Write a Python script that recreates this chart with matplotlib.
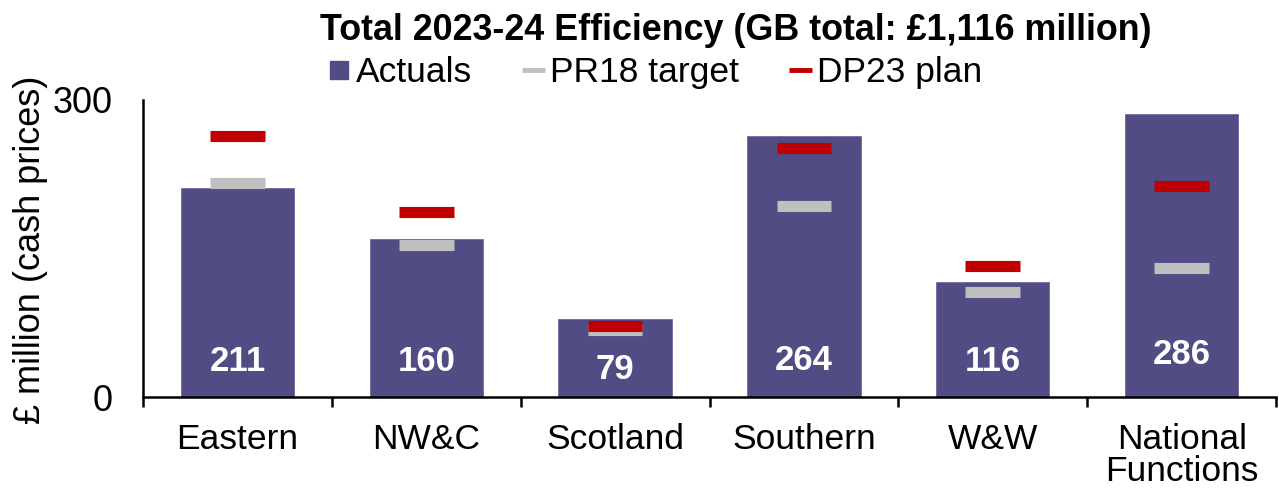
import matplotlib.pyplot as plt
from matplotlib.lines import Line2D

plt.rcParams["font.family"] = ["Liberation Sans", "DejaVu Sans"]

REGIONS = ["Eastern", "NW&C", "Scotland", "Southern", "W&W", "National\nFunctions"]
ACTUALS = [211, 160, 79, 264, 116, 286]
PR18_TARGET = [216, 154, 68, 193, 106, 130]
DP23_PLAN = [264, 187, 72, 251, 132, 213]

BAR_COLOR = "#514C84"
PR18_COLOR = "#BFBFBF"
DP23_COLOR = "#C00000"

# label heights (data units) roughly as Excel placed them
LABEL_Y = [36, 36, 28, 37, 36, 43]


def main():
    fig = plt.figure(figsize=(12.79, 4.93), dpi=100)
    ax = fig.add_axes([0.1118, 0.1947, 0.8859, 0.6025])

    x = range(len(REGIONS))
    ax.bar(x, ACTUALS, width=0.6, color=BAR_COLOR, edgecolor="#6E6A9C",
           linewidth=0.6, zorder=2)
    ax.hlines(PR18_TARGET, [i - 0.145 for i in x], [i + 0.145 for i in x],
              color=PR18_COLOR, linewidth=8, capstyle="butt", zorder=3)
    ax.hlines(DP23_PLAN, [i - 0.145 for i in x], [i + 0.145 for i in x],
              color=DP23_COLOR, linewidth=8, capstyle="butt", zorder=4)

    for i, v in enumerate(ACTUALS):
        ax.text(i, LABEL_Y[i], str(v), ha="center", va="center", color="white",
                fontsize=25, fontweight="bold", zorder=5)

    ax.set_xlim(-0.5, len(REGIONS) - 0.5)
    ax.set_ylim(0, 300)
    ax.set_yticks([0, 300])
    ax.tick_params(axis="y", length=0, labelsize=26, pad=22)
    ax.set_xticks(list(x))
    ax.set_xticklabels(REGIONS, fontsize=25.5, linespacing=0.94)
    ax.tick_params(axis="x", which="major", length=0, pad=19)
    ax.set_xticks([i - 0.5 for i in range(len(REGIONS) + 1)], minor=True)
    ax.tick_params(axis="x", which="minor", length=7.5, width=1.8, direction="out")

    for s in ("top", "right"):
        ax.spines[s].set_visible(False)
    for s in ("left", "bottom"):
        ax.spines[s].set_linewidth(1.8)

    fig.text(0.024, 0.493, "£ million (cash prices)", rotation=90, ha="center",
             va="center", fontsize=26)
    fig.text(0.5755, 0.939, "Total 2023-24 Efficiency (GB total: £1,116 million)",
             ha="center", va="center", fontsize=25.8, fontweight="bold")

    handles = [
        Line2D([0], [0], marker="s", markersize=13, linestyle="none",
               markerfacecolor=BAR_COLOR, markeredgecolor=BAR_COLOR),
        Line2D([0], [0], color=PR18_COLOR, linewidth=3.5, solid_capstyle="butt"),
        Line2D([0], [0], color=DP23_COLOR, linewidth=3.5, solid_capstyle="butt"),
    ]
    fig.legend(handles, ["Actuals", "PR18 target", "DP23 plan"], loc="center",
               bbox_to_anchor=(0.512, 0.852), ncol=3, frameon=False, fontsize=25.5,
               handlelength=0.65, handletextpad=0.15, columnspacing=1.4,
               borderpad=0)

    fig.savefig("out.png", dpi=100)


if __name__ == "__main__":
    main()
